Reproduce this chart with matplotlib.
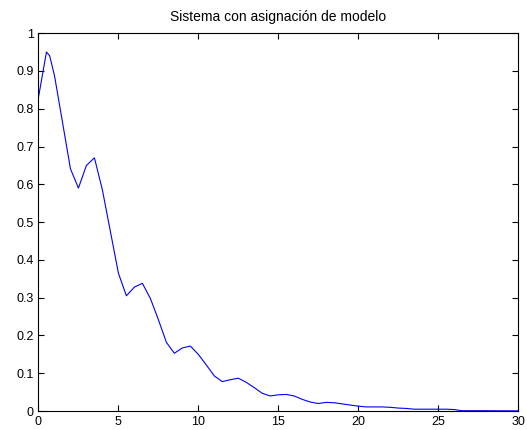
import matplotlib
matplotlib.use("Agg")
import matplotlib.pyplot as plt

# ── data ────────────────────────────────────────────────────────────────────
t = [0.0, 0.5, 0.7, 1.0, 1.5, 2.0, 2.5, 3.0, 3.5, 4.0, 4.5, 5.0, 5.5, 6.0,
     6.5, 7.0, 7.5, 8.0, 8.5, 9.0, 9.5, 10.0, 10.5, 11.0, 11.5, 12.0, 12.5,
     13.0, 13.5, 14.0, 14.5, 15.0, 15.5, 16.0, 16.5, 17.0, 17.5, 18.0, 18.5,
     19.0, 19.5, 20.0, 20.5, 21.0, 21.5, 22.0, 22.5, 23.0, 23.5, 24.0, 24.5,
     25.0, 25.5, 26.0, 26.5, 27.0, 28.0, 29.0, 30.0]
y = [0.830, 0.950, 0.940, 0.888, 0.765, 0.641, 0.590, 0.650, 0.670, 0.585,
     0.475, 0.365, 0.305, 0.328, 0.338, 0.298, 0.242, 0.182, 0.153, 0.167,
     0.172, 0.150, 0.122, 0.093, 0.078, 0.083, 0.087, 0.076, 0.062, 0.047,
     0.040, 0.043, 0.044, 0.040, 0.031, 0.024, 0.020, 0.023, 0.022, 0.019,
     0.016, 0.013, 0.011, 0.011, 0.011, 0.010, 0.008, 0.007, 0.005, 0.005,
     0.005, 0.005, 0.005, 0.004, 0.001, 0.001, 0.001, 0.0008, 0.0005]

xticks = [0, 5, 10, 15, 20, 25, 30]
yticks = [0, 0.1, 0.2, 0.3, 0.4, 0.5, 0.6, 0.7, 0.8, 0.9, 1]
ytick_labels = ["0", "0.1", "0.2", "0.3", "0.4", "0.5", "0.6", "0.7", "0.8", "0.9", "1"]
title = "Sistema con asignación de modelo"

plt.rcParams["font.family"] = ["Liberation Sans", "DejaVu Sans"]

fig = plt.figure(figsize=(5.27, 4.30), dpi=100)
ax = fig.add_axes([0.073, 0.044, 0.910, 0.879])

ax.plot(t, y, color="#0000ff", lw=0.8)

ax.set_xlim(0, 30)
ax.set_ylim(0, 1)
ax.set_xticks(xticks)
ax.set_yticks(yticks)
ax.set_yticklabels(ytick_labels)
ax.tick_params(direction="in", top=True, right=True, length=4, width=0.8,
               labelsize=9, pad=3.5, colors="black")
for s in ax.spines.values():
    s.set_linewidth(0.8)

ax.set_title(title, fontsize=10, pad=9)

fig.savefig("out.png", dpi=100, facecolor="white")
